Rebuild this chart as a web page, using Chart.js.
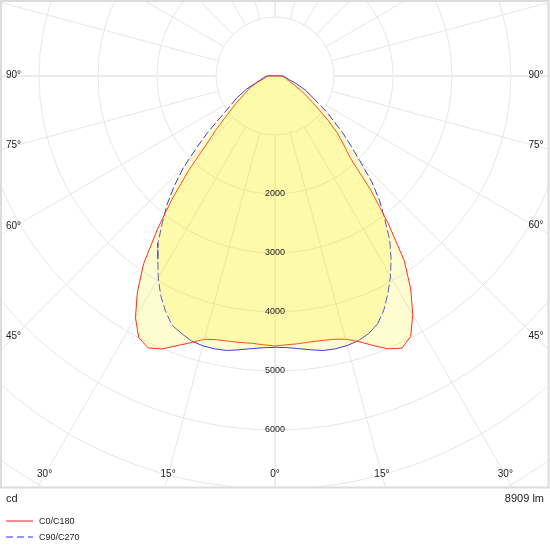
<!DOCTYPE html>
<html>
<head>
<meta charset="utf-8">
<title>Light distribution</title>
<script src="https://cdn.jsdelivr.net/npm/chart.js@4.4.0/dist/chart.umd.min.js"></script>
<style>
  html, body { margin: 0; padding: 0; background: #fff; }
  #wrap { width: 550px; height: 550px; position: relative; }
</style>
</head>
<body>
<div id="wrap"><canvas id="polarChart"></canvas></div>
<script>
// gamma angles (deg, 0 = straight down) where the intensities were read
const gammaAngles = [0, 2.5, 5, 7.5, 10, 12.5, 15, 17.5, 20, 22.5, 25, 27.5, 30, 32.5, 35, 37.5,
  40, 42.5, 45, 47.5, 50, 55, 60, 65, 70, 75, 80, 85, 90, 180];

// luminous intensity in cd, per C-plane
const c0 = [4576, 4560, 4555, 4546, 4554, 4571, 4619, 4720, 4860, 5005, 5090, 4980, 4670, 4281, 3819, 3153,
  2525, 1898, 1644, 1436, 1183, 773, 542, 359, 254, 203, 169, 136, 102, 0];
const c180 = [4576, 4560, 4547, 4556, 4563, 4578, 4619, 4739, 4864, 5008, 5085, 5000, 4729, 4340, 3881, 3271,
  2695, 2153, 1653, 1364, 1119, 802, 586, 454, 320, 210, 169, 136, 102, 0];
const c90 = [4598, 4608, 4639, 4681, 4724, 4736, 4729, 4703, 4646, 4546, 4370, 4147, 3915, 3661, 3390, 3051,
  2756, 2424, 2034, 1736, 1497, 1076, 753, 568, 390, 254, 203, 169, 136, 0];
const c270 = [4598, 4610, 4639, 4681, 4724, 4736, 4734, 4708, 4642, 4569, 4393, 4195, 3956, 3695, 3458, 3136,
  2847, 2525, 2195, 1803, 1492, 990, 749, 539, 344, 254, 203, 169, 136, 0];

const seriesNames = ["C0/C180", "C90/C270"];
const ringLabels = [2000, 3000, 4000, 5000, 6000];
const angleLabels = [0, 15, 30, 45, 60, 75, 90];
const unitText = "cd";
const fluxText = "8909 lm";

const ringStep = 1000;
const spokeStep = 15;

// left half (C180 / C270) from the top down, then right half back up
function buildCurve(left, right) {
  const pts = [];
  for (let i = gammaAngles.length - 1; i >= 0; i--) {
    const a = gammaAngles[i] * Math.PI / 180;
    pts.push({ x: -left[i] * Math.sin(a), y: -left[i] * Math.cos(a) });
  }
  for (let i = 0; i < gammaAngles.length; i++) {
    const a = gammaAngles[i] * Math.PI / 180;
    pts.push({ x: right[i] * Math.sin(a), y: -right[i] * Math.cos(a) });
  }
  return pts;
}

function segLen(ctx) {
  return Math.hypot(ctx.p1.x - ctx.p0.x, ctx.p1.y - ctx.p0.y);
}

const polarGrid = {
  id: "polarGrid",
  beforeDatasetsDraw(chart) {
    const { ctx, chartArea: a, scales: { x, y } } = chart;
    const cx = x.getPixelForValue(0), cy = y.getPixelForValue(0);
    const step = x.getPixelForValue(ringStep) - cx;
    ctx.save();
    ctx.beginPath();
    ctx.rect(a.left, a.top, a.width, a.height);
    ctx.clip();
    ctx.strokeStyle = "#e6e6e6";
    ctx.lineWidth = 1;
    for (let k = 1; k <= 9; k++) {
      ctx.beginPath();
      ctx.arc(cx, cy, k * step, 0, 2 * Math.PI);
      ctx.stroke();
    }
    for (let g = 0; g < 360; g += spokeStep) {
      const rad = g * Math.PI / 180;
      const dx = Math.sin(rad), dy = Math.cos(rad);
      ctx.lineWidth = g % 90 === 0 ? 2 : 1;
      ctx.strokeStyle = g % 90 === 0 ? "#ececec" : "#e6e6e6";
      ctx.beginPath();
      ctx.moveTo(cx + dx * step, cy + dy * step);
      ctx.lineTo(cx + dx * 1000, cy + dy * 1000);
      ctx.stroke();
    }
    ctx.restore();
  },
  afterDatasetsDraw(chart) {
    const { ctx, chartArea: a, scales: { x, y } } = chart;
    const cx = x.getPixelForValue(0), cy = y.getPixelForValue(0);
    ctx.save();
    ctx.fillStyle = "#222";
    ctx.textAlign = "center";
    ctx.textBaseline = "middle";

    // intensity labels along the 0° axis
    ctx.font = "9px 'Liberation Sans', Arial, sans-serif";
    ringLabels.forEach((v) => {
      ctx.fillText(String(v), cx, y.getPixelForValue(-v));
    });

    // angle labels where the spokes meet an inset of the frame
    ctx.font = "10px 'Liberation Sans', Arial, sans-serif";
    const inset = 12.5;
    [-1, 1].forEach((side) => {
      angleLabels.forEach((g) => {
        if (g === 0 && side > 0) return;
        const rad = g * Math.PI / 180;
        const dx = side * Math.sin(rad), dy = Math.cos(rad);
        let t = Infinity;
        if (Math.abs(dx) > 1e-6) {
          const edge = side < 0 ? cx - (a.left + inset) : (a.right - inset) - cx;
          t = Math.min(t, edge / Math.abs(dx));
        }
        if (dy > 1e-6) t = Math.min(t, (a.bottom - inset - cy) / dy);
        ctx.fillText(g + "°", cx + dx * t, cy + dy * t - 1);
      });
    });

    // frame
    ctx.strokeStyle = "#dcdcdc";
    ctx.lineWidth = 2;
    ctx.strokeRect(a.left, a.top, a.width, a.height);

    // unit and flux under the frame
    ctx.font = "11px 'Liberation Sans', Arial, sans-serif";
    ctx.textAlign = "left";
    ctx.fillText(unitText, 6, a.bottom + 11);
    ctx.textAlign = "right";
    ctx.fillText(fluxText, 544, a.bottom + 11);

    // legend
    const legendColors = ["rgb(255,140,140)", "rgb(150,150,255)"];
    ctx.font = "9px 'Liberation Sans', Arial, sans-serif";
    ctx.textAlign = "left";
    seriesNames.forEach((name, i) => {
      const ly = a.bottom + 33.5 + i * 16;
      ctx.strokeStyle = legendColors[i];
      ctx.lineWidth = 2;
      ctx.setLineDash(i === 1 ? [7, 4] : []);
      ctx.beginPath();
      ctx.moveTo(6, ly);
      ctx.lineTo(33, ly);
      ctx.stroke();
      ctx.setLineDash([]);
      ctx.fillText(name, 39, ly + 1);
    });
    ctx.restore();
  }
};

const fillColor = "rgba(250, 238, 0, 0.18)";
const curveC0 = buildCurve(c180, c0);
const curveC90 = buildCurve(c270, c90);

new Chart(document.getElementById("polarChart").getContext("2d"), {
  type: "scatter",
  data: {
    datasets: [
      // fills first, so both outlines stay on top
      {
        label: seriesNames[0] + " fill",
        data: curveC0,
        showLine: true,
        tension: 0,
        pointRadius: 0,
        borderWidth: 0,
        borderColor: "rgba(0,0,0,0)",
        backgroundColor: fillColor,
        fill: "shape",
      },
      {
        label: seriesNames[1] + " fill",
        data: curveC90,
        showLine: true,
        tension: 0,
        pointRadius: 0,
        borderWidth: 0,
        borderColor: "rgba(0,0,0,0)",
        backgroundColor: fillColor,
        fill: "shape",
      },
      {
        label: seriesNames[0],
        data: curveC0,
        showLine: true,
        tension: 0,
        pointRadius: 0,
        borderWidth: 1,
        borderColor: "rgb(255,30,30)",
        fill: false,
      },
      {
        label: seriesNames[1],
        data: curveC90,
        showLine: true,
        tension: 0,
        pointRadius: 0,
        borderWidth: 1,
        borderColor: "rgb(40,40,255)",
        fill: false,
        segment: {
          borderDash: (ctx) => (segLen(ctx) > 14.5 ? [8, 3] : undefined),
        },
      },
    ],
  },
  options: {
    responsive: true,
    maintainAspectRatio: false,
    animation: false,
    layout: { padding: { left: 1, top: 1, right: 1.5, bottom: 62.5 } },
    scales: {
      x: { type: "linear", display: false, min: -4644, max: 4636 },
      y: { type: "linear", display: false, min: -6975, max: 1271 },
    },
    plugins: {
      legend: { display: false },
      tooltip: { enabled: false },
    },
  },
  plugins: [polarGrid],
});
</script>
</body>
</html>
